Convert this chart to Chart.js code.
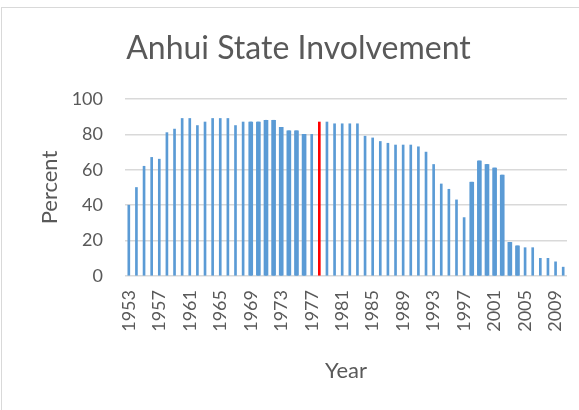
<!DOCTYPE html>
<html>
<head>
<meta charset="utf-8">
<script src="https://cdn.jsdelivr.net/npm/chart.js@4.4.1/dist/chart.umd.min.js"></script>
<style>
    html, body { margin: 0; padding: 0; background: #fff; }
    #wrap { position: absolute; left: 0; top: 0; width: 579px; height: 410px; }
    #frame { position: absolute; left: 1px; top: 7px; width: 640px; height: 460px; border: 1px solid #d9d9d9; pointer-events: none; }
</style>
</head>
<body>
<div id="wrap"><canvas id="chart" width="579" height="410"></canvas></div>
<div id="frame"></div>
<script>
// years on the x axis, 1953 - 2010
let years = [];
for (let y = 1953; y <= 2010; y++) years.push(String(y));

// percent of state involvement
let percent = [
    40, 50, 62, 67, 66, 81, 83, 89, 89, 85,
    87, 89, 89, 89, 85, 87, 87, 87, 88, 88,
    84, 82, 82, 80, 80, 87, 87, 86, 86, 86,
    86, 79, 78, 76, 75, 74, 74, 74, 73, 70,
    63, 52, 49, 43, 33, 53, 65, 63, 61, 57,
    19, 17, 16, 16, 10, 10, 8, 5
];

// bars that show up wider in the original
let wideYears = ['1969', '1970', '1971', '1972', '1973', '1974', '1975', '1976',
    '1998', '1999', '2000', '2001', '2002', '2003', '2004'];
let highlightYear = '1978';

let yTicks = [0, 20, 40, 60, 80, 100];

const blue = '#5B9BD5';
const red = '#FF0000';
const grey = '#595959';
const font = 'Lato, "Open Sans", sans-serif';

let thinColors = years.map(y => y === highlightYear ? red : blue);
let wideData = percent.map((v, i) => wideYears.includes(years[i]) ? v : null);

const ctx = document.getElementById('chart').getContext('2d');
const chart = new Chart(ctx, {
    type: 'bar',
    data: {
        labels: years,
        datasets: [{
            label: 'Percent',
            data: percent,
            backgroundColor: thinColors,
            barThickness: 2,
            grouped: false
        }, {
            label: 'Percent wide',
            data: wideData,
            backgroundColor: blue,
            barThickness: 4,
            grouped: false
        }]
    },
    options: {
        responsive: false,
        animation: false,
        layout: { padding: { left: 30, right: 12, top: 7, bottom: 20 } },
        plugins: {
            legend: { display: false },
            tooltip: { enabled: false },
            title: {
                display: true,
                text: 'Anhui State Involvement',
                color: grey,
                font: { family: font, size: 32, weight: 'normal' },
                padding: { top: 22, bottom: 31.6 }
            }
        },
        scales: {
            x: {
                grid: { display: false, drawTicks: false },
                border: { display: false },
                ticks: {
                    autoSkip: false,
                    minRotation: 90,
                    maxRotation: 90,
                    padding: 14,
                    color: grey,
                    font: { family: font, size: 18 },
                    callback: (v, i) => i % 4 === 0 ? years[i] : ''
                },
                title: {
                    display: true,
                    text: 'Year',
                    color: grey,
                    font: { family: font, size: 22 },
                    padding: { top: 0, bottom: 6 }
                },
                afterFit: scale => {
                    scale.height = 114;
                    scale.paddingLeft = 0;
                    scale.paddingRight = 0;
                }
            },
            y: {
                min: 0,
                max: 100,
                afterBuildTicks: scale => { scale.ticks = yTicks.map(v => ({ value: v })); },
                grid: { color: '#d9d9d9', lineWidth: 1.5, drawTicks: false },
                border: { display: false },
                ticks: {
                    padding: 22,
                    color: grey,
                    font: { family: font, size: 18 }
                },
                title: {
                    display: true,
                    text: 'Percent',
                    color: grey,
                    font: { family: font, size: 22 },
                    padding: { top: 7, bottom: 0 }
                },
                afterFit: scale => { scale.width = 95; }
            }
        }
    }
});
</script>
</body>
</html>
